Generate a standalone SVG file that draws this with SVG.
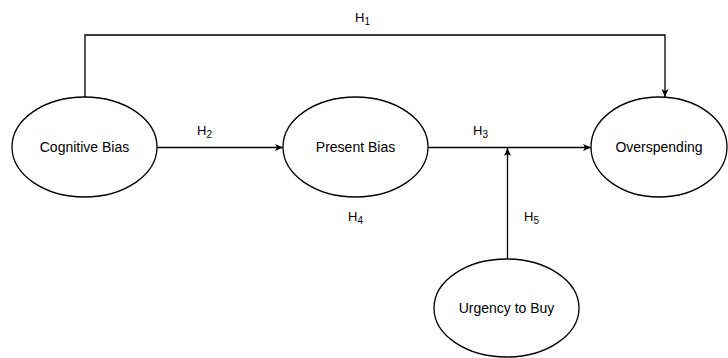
<svg xmlns="http://www.w3.org/2000/svg" width="728" height="358" viewBox="0 0 728 358">
<style>
.n{fill:#fff;stroke:#000;stroke-width:1.3}
.t{font-family:"Liberation Sans",Arial,sans-serif;font-size:14px;fill:#000;text-anchor:middle}
.l{font-family:"Liberation Sans",Arial,sans-serif;font-size:13px;fill:#000}
.c{fill:none;stroke:#000;stroke-width:1.3}
</style>
<defs>
<marker id="a" markerWidth="10" markerHeight="10" refX="9" refY="5" orient="auto" markerUnits="userSpaceOnUse">
<path d="M1,1.5 L9,5 L1,8.5 L3,5 Z" fill="#000"/>
</marker>
</defs>
<rect width="728" height="358" fill="#fff"/>
<g id="connectors">
<path class="c" d="M85,97 V35 H665 V97" marker-end="url(#a)"/>
<path class="c" d="M157,147.5 H283" marker-end="url(#a)"/>
<path class="c" d="M428,147.5 H591" marker-end="url(#a)"/>
<path class="c" d="M507.5,259 V148" marker-end="url(#a)"/>
</g>
<g id="cognitive-bias"><ellipse class="n" cx="84.5" cy="147" rx="72.5" ry="50"/><text class="t" x="84.5" y="152">Cognitive Bias</text></g>
<g id="present-bias"><ellipse class="n" cx="355.5" cy="147" rx="72.5" ry="50"/><text class="t" x="355.5" y="152">Present Bias</text></g>
<g id="overspending"><ellipse class="n" cx="659" cy="147" rx="68" ry="50"/><text class="t" x="659" y="152">Overspending</text></g>
<g id="urgency"><ellipse class="n" cx="506.5" cy="308" rx="72.5" ry="49"/><text class="t" x="506.5" y="313">Urgency to Buy</text></g>
<g id="labels">
<text class="l" x="355" y="22">H<tspan font-size="10" dy="3">1</tspan></text>
<text class="l" x="197" y="135">H<tspan font-size="10" dy="3">2</tspan></text>
<text class="l" x="473" y="135">H<tspan font-size="10" dy="3">3</tspan></text>
<text class="l" x="348" y="221">H<tspan font-size="10" dy="3">4</tspan></text>
<text class="l" x="524" y="221">H<tspan font-size="10" dy="3">5</tspan></text>
</g>
</svg>
